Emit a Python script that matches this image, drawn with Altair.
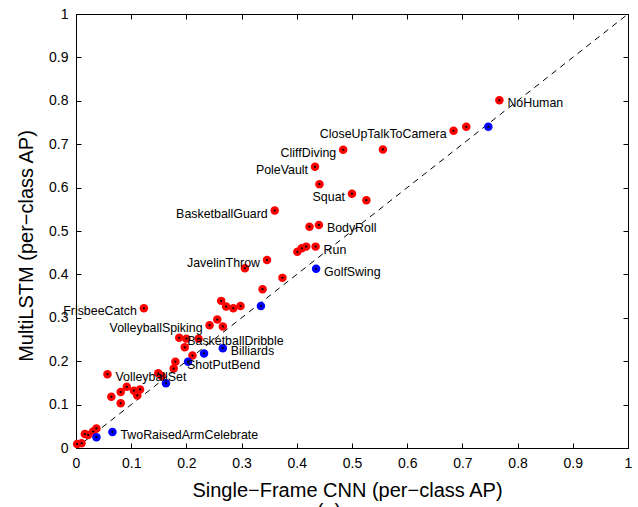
import altair as alt
import pandas as pd

# ---- data ----
red_x = [0.002, 0.010, 0.016, 0.022, 0.031, 0.037, 0.057, 0.064, 0.081, 0.081,
         0.092, 0.105, 0.111, 0.116, 0.123, 0.149, 0.155, 0.177, 0.180, 0.187,
         0.197, 0.200, 0.211, 0.222, 0.242, 0.256, 0.266, 0.263, 0.272, 0.285,
         0.298, 0.306, 0.338, 0.346, 0.374, 0.401, 0.409, 0.417, 0.434, 0.423,
         0.440, 0.360, 0.433, 0.441, 0.484, 0.556, 0.500, 0.526, 0.684, 0.707,
         0.767]
red_y = [0.009, 0.011, 0.032, 0.030, 0.038, 0.045, 0.170, 0.118, 0.129, 0.103,
         0.141, 0.132, 0.121, 0.135, 0.322, 0.172, 0.166, 0.183, 0.199, 0.254,
         0.232, 0.252, 0.213, 0.252, 0.283, 0.296, 0.280, 0.339, 0.326, 0.322,
         0.327, 0.414, 0.366, 0.433, 0.392, 0.452, 0.460, 0.464, 0.464, 0.510,
         0.514, 0.547, 0.648, 0.608, 0.687, 0.688, 0.586, 0.571, 0.731, 0.740,
         0.801]
blue_x = [0.037, 0.066, 0.163, 0.203, 0.232, 0.266, 0.335, 0.435, 0.747]
blue_y = [0.025, 0.037, 0.149, 0.199, 0.218, 0.230, 0.327, 0.413, 0.740]

# labels: name, series, index into that series, side of the point
label_names = ["NoHuman", "CloseUpTalkToCamera", "CliffDiving", "PoleVault", "Squat",
               "BasketballGuard", "BodyRoll", "Run", "GolfSwing", "JavelinThrow",
               "FrisbeeCatch", "VolleyballSpiking", "BasketballDribble", "Billiards",
               "ShotPutBend", "VolleyballSet", "TwoRaisedArmCelebrate"]
label_series = ["red", "red", "red", "red", "red",
                "red", "red", "red", "blue", "red",
                "red", "red", "red", "blue",
                "blue", "red", "blue"]
label_index = [50, 48, 44, 42, 46,
               41, 40, 38, 7, 33,
               14, 24, 19, 5,
               3, 6, 1]
label_side = ["right", "left", "left", "left", "left",
              "left", "right", "right", "right", "left",
              "left", "left", "right", "right",
              "on", "right", "right"]

diag_v = [0, 1]
tick_values = [0, 0.1, 0.2, 0.3, 0.4, 0.5, 0.6, 0.7, 0.8, 0.9, 1]

x_title = "Single\u2212Frame CNN (per\u2212class AP)"
y_title = "MultiLSTM (per\u2212class AP)"
caption = "(a)"

# ---- tables ----
pts = pd.DataFrame({
    "x": red_x + blue_x,
    "y": red_y + blue_y,
    "series": ["red"] * len(red_x) + ["blue"] * len(blue_x),
})
lx, ly = [], []
for s, i in zip(label_series, label_index):
    xs, ys = (red_x, red_y) if s == "red" else (blue_x, blue_y)
    lx.append(xs[i])
    ly.append(ys[i])
labels = pd.DataFrame({"name": label_names, "x": lx, "y": ly, "side": label_side})
diag = pd.DataFrame({"x": diag_v, "y": diag_v})

FONT = "Liberation Sans"
W, H = 552, 434

xs_ = alt.Scale(domain=[0, 1], nice=False, zero=False)
ys_ = alt.Scale(domain=[0, 1], nice=False, zero=False)

axis_common = dict(
    values=tick_values, format=".1~f", offset=-5, tickSize=5, domain=False,
    grid=False, tickColor="black", tickWidth=1, labelColor="black",
    labelFont=FONT, labelFontSize=14, labelFlush=False, labelOverlap=False,
    titleFont=FONT, titleFontSize=20, titleFontWeight="normal", titleColor="black",
)

x_axis = alt.Axis(orient="bottom", title=x_title, labelPadding=8,
                  titleX=271, titleY=53, titleBaseline="alphabetic",
                  titleAlign="center", **axis_common)
y_axis = alt.Axis(orient="left", title=y_title, labelPadding=8,
                  titleX=-49, titleY=231.5, titleAngle=-90,
                  titleBaseline="alphabetic", titleAlign="center", **axis_common)

x_axis_top = alt.Axis(orient="top", values=tick_values, offset=-5, tickSize=5,
                      domain=False, grid=False, labels=False, title=None,
                      tickColor="black", tickWidth=1)
y_axis_right = alt.Axis(orient="right", values=tick_values, offset=-5, tickSize=5,
                        domain=False, grid=False, labels=False, title=None,
                        tickColor="black", tickWidth=1)

diag_line = alt.Chart(diag).mark_line(
    color="black", strokeWidth=1, strokeDash=[6, 5]
).encode(
    x=alt.X("x:Q", scale=xs_, axis=x_axis),
    y=alt.Y("y:Q", scale=ys_, axis=y_axis),
)

frame_axes = alt.Chart(diag).mark_line(opacity=0).encode(
    x=alt.X("x:Q", scale=xs_, axis=x_axis_top),
    y=alt.Y("y:Q", scale=ys_, axis=y_axis_right),
)

points = alt.Chart(pts).mark_circle(size=72, opacity=1).encode(
    x=alt.X("x:Q", scale=xs_, axis=None),
    y=alt.Y("y:Q", scale=ys_, axis=None),
    color=alt.Color("series:N", scale=alt.Scale(domain=["red", "blue"],
                                                range=["#ff0000", "#0000ff"]),
                    legend=None),
)

dots = alt.Chart(pts).mark_circle(size=5, opacity=1, color="black").encode(
    x=alt.X("x:Q", scale=xs_, axis=None),
    y=alt.Y("y:Q", scale=ys_, axis=None),
)

def label_layer(side, align, dx):
    return alt.Chart(labels).transform_filter(
        alt.datum.side == side
    ).mark_text(
        align=align, baseline="middle", dx=dx, dy=3, font=FONT,
        fontSize=12.4, color="black"
    ).encode(
        x=alt.X("x:Q", scale=xs_, axis=None),
        y=alt.Y("y:Q", scale=ys_, axis=None),
        text="name:N",
    )

lab_left = label_layer("left", "right", -7)
lab_right = label_layer("right", "left", 8)
lab_on = label_layer("on", "left", -1)

cap = alt.Chart(pd.DataFrame({"t": [caption]})).mark_text(
    align="center", baseline="top", font=FONT, fontSize=20, color="black"
).encode(
    x=alt.value(253), y=alt.value(488), text="t:N"
)

chart = alt.layer(
    diag_line, frame_axes, points, dots, lab_left, lab_right, lab_on, cap
).resolve_axis(
    x="independent", y="independent"
).properties(
    width=W, height=H,
    autosize=alt.AutoSizeParams(type="none"),
    padding={"left": 76, "top": 14, "right": 10, "bottom": 59},
    background="white",
).configure_view(
    stroke="black", strokeWidth=1
)

chart.save("out.html", embed_options={"renderer": "svg", "actions": False})
